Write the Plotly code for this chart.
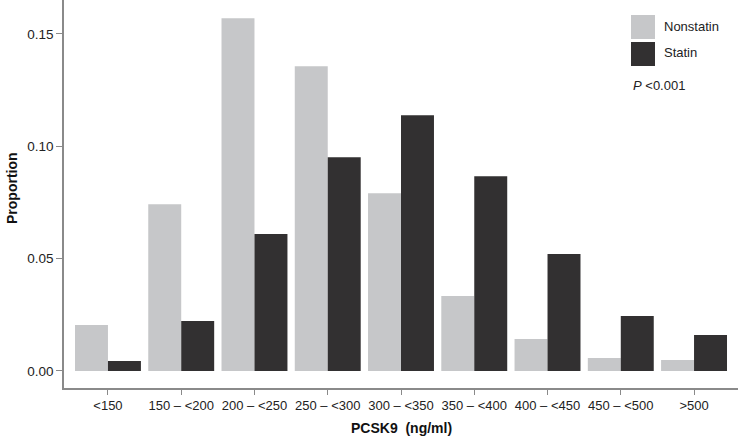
import plotly.graph_objects as go

categories = ["<150", "150 – <200", "200 – <250", "250 – <300", "300 – <350",
              "350 – <400", "400 – <450", "450 – <500", ">500"]
nonstatin = [0.0204, 0.0742, 0.157, 0.1356, 0.0791, 0.0333, 0.0142, 0.0058, 0.0049]
statin = [0.0044, 0.0222, 0.0609, 0.0951, 0.1138, 0.0867, 0.052, 0.0244, 0.016]
y_ticks = [0.0, 0.05, 0.10, 0.15]
y_tick_labels = ["0.00", "0.05", "0.10", "0.15"]

LIGHT = "#c6c7c9"
DARK = "#323031"
AXIS = "#8a8a8a"
FONT = "Liberation Sans, Arial, sans-serif"

fig = go.Figure()
fig.add_trace(go.Bar(x=categories, y=nonstatin, name="Nonstatin", marker_color=LIGHT,
                     marker_line_width=0))
fig.add_trace(go.Bar(x=categories, y=statin, name="Statin", marker_color=DARK,
                     marker_line_width=0))

W, H = 738, 437
L, R, T, B = 64, 0, 0, 49
pw, ph = W - L - R, H - T - B


def px(x):
    return (x - L) / pw


def py(y):
    return (H - B - y) / ph


fig.update_layout(
    width=W, height=H,
    margin=dict(l=L, r=R, t=T, b=B, autoexpand=False),
    paper_bgcolor="white", plot_bgcolor="white",
    barmode="group", bargap=0.1, bargroupgap=0,
    showlegend=False,
    font=dict(family=FONT, size=13, color="#222"),
    xaxis=dict(range=[-0.6, 8.6], showline=True, linecolor=AXIS, linewidth=1.5,
               ticks="outside", ticklen=5, tickcolor=AXIS, tickwidth=1.2,
               showgrid=False, zeroline=False, automargin=False,
               tickfont=dict(size=13, color="#222")),
    yaxis=dict(range=[-0.0076, 0.1651], showline=True, linecolor=AXIS, linewidth=1.5,
               ticks="outside", ticklen=6, tickcolor=AXIS, tickwidth=1.2,
               tickvals=y_ticks, ticktext=y_tick_labels,
               showgrid=False, zeroline=False, automargin=False,
               tickfont=dict(size=13.5, color="#222")),
)

# Axis titles
fig.add_annotation(xref="paper", yref="paper", x=0.5, y=py(428), text="<b>PCSK9  (ng/ml)</b>",
                   showarrow=False, xanchor="center", yanchor="middle",
                   font=dict(size=14, color="#111"))
fig.add_annotation(xref="paper", yref="paper", x=px(12), y=py(188), text="<b>Proportion</b>",
                   showarrow=False, xanchor="center", yanchor="middle", textangle=-90,
                   font=dict(size=14, color="#111"))

# Legend swatches and labels
fig.add_shape(type="rect", xref="paper", yref="paper",
              x0=px(631), x1=px(655), y0=py(39), y1=py(15),
              fillcolor=LIGHT, line_width=0)
fig.add_shape(type="rect", xref="paper", yref="paper",
              x0=px(631), x1=px(655), y0=py(66), y1=py(42),
              fillcolor=DARK, line_width=0)
fig.add_annotation(xref="paper", yref="paper", x=px(662), y=py(27), text="Nonstatin",
                   showarrow=False, xanchor="left", yanchor="middle",
                   font=dict(size=13, color="#222"))
fig.add_annotation(xref="paper", yref="paper", x=px(662), y=py(53), text="Statin",
                   showarrow=False, xanchor="left", yanchor="middle",
                   font=dict(size=13, color="#222"))
fig.add_annotation(xref="paper", yref="paper", x=px(631), y=py(85), text="<i>P</i> <0.001",
                   showarrow=False, xanchor="left", yanchor="middle",
                   font=dict(size=13, color="#222"))

fig.write_html("out.html", config={"displayModeBar": False},
               post_script="document.body.style.margin='0';document.body.style.overflow='hidden';")
